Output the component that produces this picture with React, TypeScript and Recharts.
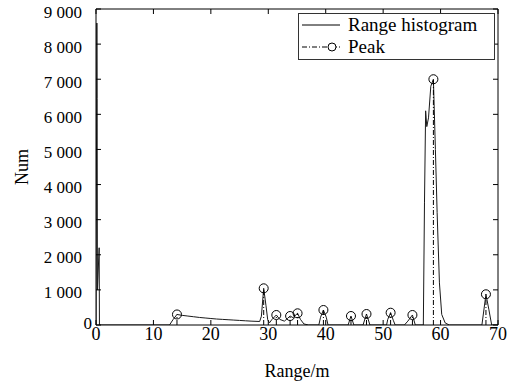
import React from 'react';
import { ComposedChart, Line, XAxis, YAxis } from 'recharts';

// range histogram (x in metres, y = count)
const rangeM = [
  0, 0.15, 0.2, 0.25, 0.55, 0.6,
  12.8, 13.4, 14.1, 15, 16, 17, 18, 19, 20, 21, 22, 23, 24, 25, 26, 27, 28.5,
  28.8, 29.2, 29.6, 29.9, 30.2, 30.6, 31.4, 32, 32.8, 33.3, 33.8, 34.3, 35.1, 35.6, 36.2, 37,
  38.8, 39.1, 39.6, 40.1, 40.4,
  43.9, 44.4, 44.9,
  46.5, 47.1, 47.7,
  50.6, 50.8, 51.3, 51.8, 52.1,
  53.7, 54.3, 55.1, 55.6,
  57.0, 57.2, 57.4, 57.6, 57.9, 58.3, 58.75, 59.1, 59.4, 59.8, 60.2, 60.8, 61.5,
  67.2, 67.9, 68.4, 68.9, 70,
];
const counts = [
  0, 8600, 6450, 1000, 2200, 0,
  0, 150, 300, 275, 255, 235, 215, 200, 185, 170, 160, 150, 140, 130, 120, 110, 100,
  250, 1045, 550, 150, 60, 150, 285, 160, 110, 180, 256, 210, 333, 160, 30, 0,
  0, 220, 427, 220, 0,
  0, 256, 0,
  0, 313, 0,
  0, 160, 350, 120, 0,
  0, 110, 285, 0,
  0, 3500, 6100, 5650, 5900, 6800, 7000, 5000, 3200, 1200, 300, 60, 0,
  0, 875, 450, 0, 0,
];

// detected peaks
const peakRange = [14.1, 29.2, 31.4, 33.8, 35.1, 39.6, 44.4, 47.1, 51.3, 55.1, 58.75, 67.9];
const peakCount = [300, 1045, 285, 256, 333, 427, 256, 313, 350, 285, 7000, 875];

const xTicks = [0, 10, 20, 30, 40, 50, 60, 70];
const yTicks = [0, 1000, 2000, 3000, 4000, 5000, 6000, 7000, 8000, 9000];

const histData = rangeM.map((r, i) => ({ range: r, num: counts[i] }));
// each peak drawn as a stem: baseline -> peak, then a gap
const stemData = peakRange.flatMap((r, i) => [
  { range: r, num: 0 },
  { range: r, num: peakCount[i] },
  { range: r, num: null },
]);

const FONT = '"Liberation Serif", "Times New Roman", serif';

const fmtY = (v: number) => (v === 0 ? '0' : `${v / 1000} 000`);

const YTick = (props: any) => {
  const { x, y, payload } = props;
  const zero = payload.value === 0;
  return (
    <text
      x={zero ? x + 10 : x}
      y={zero ? y - 2 : y + 3}
      textAnchor="end"
      dominantBaseline="central"
      style={{ fontFamily: FONT, fontSize: 17 }}
      fill="#000"
    >
      {fmtY(payload.value)}
    </text>
  );
};

const NoLabel = () => <g />;

const PeakDot = (props: any) => {
  const { cx, cy, index } = props;
  if (index % 3 !== 1 || cx == null || cy == null) return <g key={`pd-${index}`} />;
  return <circle key={`pd-${index}`} cx={cx} cy={cy} r={4.5} stroke="#000" strokeWidth={1} fill="none" />;
};

const LegendBox = () => (
  <svg width={197} height={47} style={{ position: 'absolute', left: 298, top: 13, fontFamily: FONT }}>
    <rect x={0.5} y={0.5} width={196} height={46} fill="#fff" stroke="#333" />
    <line x1={4} y1={12} x2={42} y2={12} stroke="#000" />
    <text x={50} y={18} fontSize={19} fill="#000">Range histogram</text>
    <line x1={4} y1={34} x2={42} y2={34} stroke="#000" strokeDasharray="5 2 1 2" />
    <circle cx={34} cy={34} r={4} fill="#fff" stroke="#000" />
    <text x={50} y={40} fontSize={19} fill="#000">Peak</text>
  </svg>
);

export default function App() {
  return (
    <div style={{ position: 'absolute', left: 0, top: 0, width: 513, height: 385, background: '#fff', fontFamily: FONT }}>
      <ComposedChart width={513} height={385} margin={{ top: 8, right: 14, left: 0, bottom: 0 }} style={{ fontFamily: FONT }}>
        <XAxis
          dataKey="range"
          type="number"
          domain={[0, 70]}
          ticks={xTicks}
          interval={0}
          allowDataOverflow
          height={60}
          tickSize={-5}
          tickMargin={7}
          axisLine={{ stroke: '#000' }}
          tickLine={{ stroke: '#000' }}
          tick={{ fontSize: 18, fill: '#000', style: { fontFamily: FONT } }}
          label={{ value: 'Range/m', position: 'insideBottom', offset: 8, fontSize: 18, fill: '#000', style: { fontFamily: FONT } }}
        />
        <XAxis
          xAxisId="top"
          orientation="top"
          dataKey="range"
          type="number"
          domain={[0, 70]}
          ticks={xTicks}
          interval={0}
          allowDataOverflow
          height={1}
          tickSize={-5}
          tick={<NoLabel />}
          axisLine={{ stroke: '#000' }}
          tickLine={{ stroke: '#000' }}
        />
        <YAxis
          type="number"
          domain={[0, 9000]}
          ticks={yTicks}
          interval={0}
          allowDataOverflow
          width={96}
          tickSize={-5}
          tickMargin={19}
          axisLine={{ stroke: '#000' }}
          tickLine={{ stroke: '#000' }}
          tick={<YTick />}
          label={{ value: 'Num', angle: -90, position: 'insideLeft', offset: 22, fontSize: 18, fill: '#000', style: { textAnchor: 'middle', fontFamily: FONT } }}
        />
        <YAxis
          yAxisId="right"
          orientation="right"
          type="number"
          domain={[0, 9000]}
          ticks={yTicks}
          interval={0}
          allowDataOverflow
          width={1}
          tickSize={-5}
          tick={<NoLabel />}
          axisLine={{ stroke: '#000' }}
          tickLine={{ stroke: '#000' }}
        />
        {/* invisible copy bound to the frame axes so they get a scale */}
        <Line
          data={histData}
          xAxisId="top"
          yAxisId="right"
          dataKey="num"
          stroke="none"
          dot={false}
          activeDot={false}
          legendType="none"
          isAnimationActive={false}
        />
        <Line
          data={histData}
          dataKey="num"
          type="linear"
          stroke="#1a1a1a"
          strokeWidth={1}
          dot={false}
          activeDot={false}
          isAnimationActive={false}
        />
        <Line
          data={stemData}
          dataKey="num"
          type="linear"
          stroke="#000"
          strokeWidth={1}
          strokeDasharray="5 2 1 2"
          connectNulls={false}
          dot={PeakDot}
          activeDot={false}
          isAnimationActive={false}
        />
      </ComposedChart>
      <LegendBox />
    </div>
  );
}
